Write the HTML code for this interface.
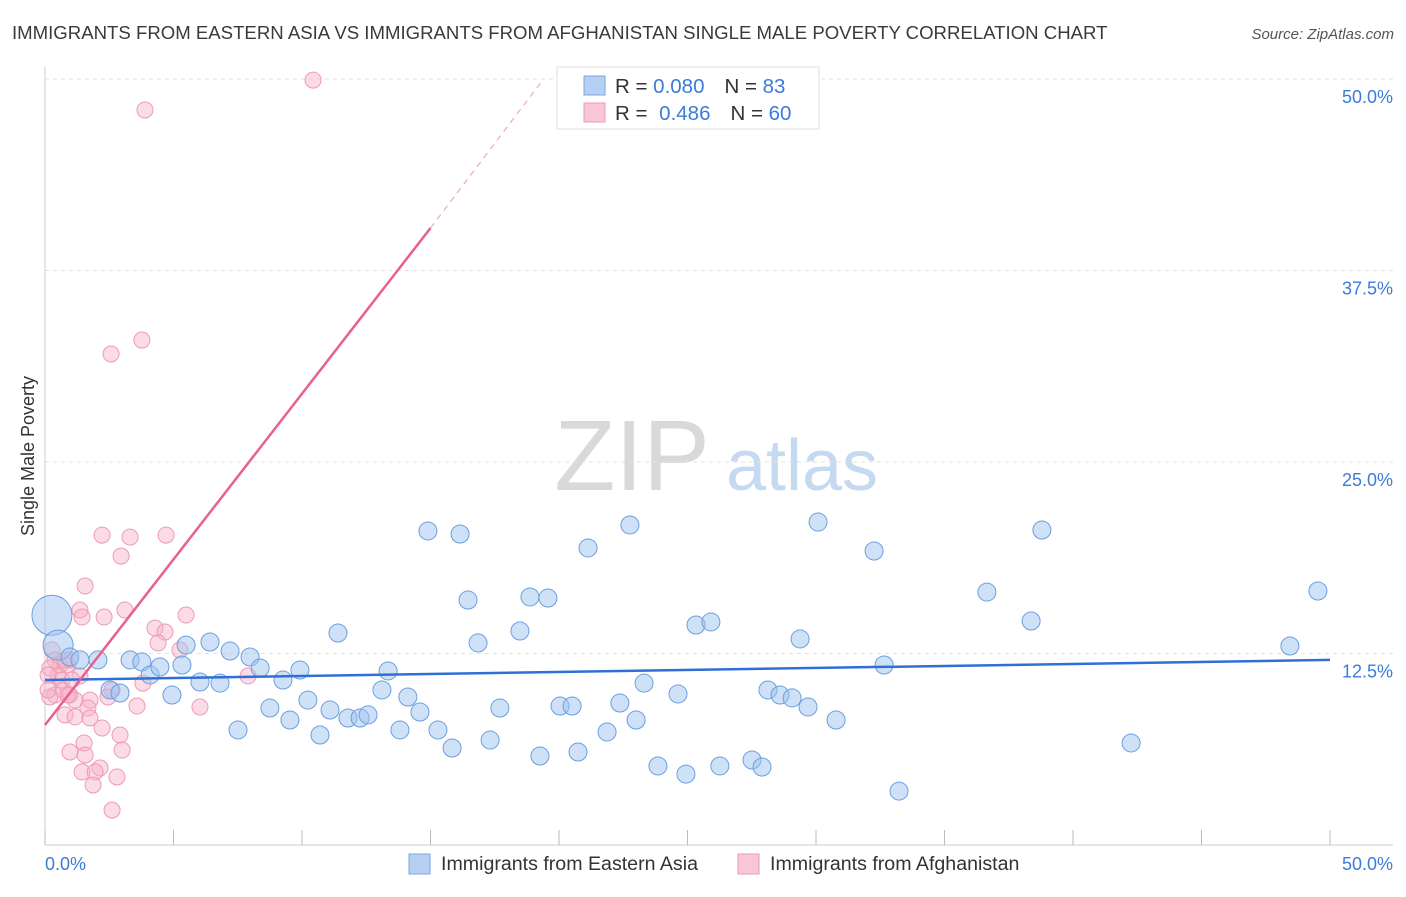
<!DOCTYPE html>
<html><head><meta charset="utf-8"><style>
body{margin:0;background:#fff;font-family:"Liberation Sans",sans-serif;}
svg text{font-family:"Liberation Sans",sans-serif;}
</style></head><body>
<svg id="chart" width="1406" height="892" viewBox="0 0 1406 892">
<text x="12" y="39" font-size="18.6" fill="#3a3a3a">IMMIGRANTS FROM EASTERN ASIA VS IMMIGRANTS FROM AFGHANISTAN SINGLE MALE POVERTY CORRELATION CHART</text>
<text x="1394" y="39" font-size="15" fill="#555" font-style="italic" text-anchor="end">Source: ZipAtlas.com</text>
<text x="0" y="0" transform="translate(34,456) rotate(-90)" font-size="18" fill="#333" text-anchor="middle">Single Male Poverty</text>
<g>
<text x="632" y="490" font-size="100" fill="#d9d9d9" font-family="Liberation Serif,serif" text-anchor="middle">ZIP</text>
<text x="802" y="490" font-size="72" fill="#c5d9f1" text-anchor="middle">atlas</text>
</g>
<g id="grid"></g><g id="axes"></g><g id="pts"></g><g id="trend"></g>
<g>
<rect x="557" y="67" width="262" height="62" fill="#fff" stroke="#ddd"/>
<rect x="584" y="76" width="21" height="19" fill="#b5d0f3" stroke="#7aa6e0"/>
<rect x="584" y="103" width="21" height="19" fill="#f8c6d5" stroke="#ec9ab4"/>
<text x="615" y="93" font-size="20.5" fill="#333">R = <tspan fill="#3d7bd9">0.080</tspan><tspan dx="20">N = </tspan><tspan fill="#3d7bd9">83</tspan></text>
<text x="615" y="120" font-size="20.5" fill="#333">R = <tspan dx="6" fill="#3d7bd9">0.486</tspan><tspan dx="20">N = </tspan><tspan fill="#3d7bd9">60</tspan></text>
</g>
<g>
<rect x="409" y="854" width="21" height="20" fill="#b5d0f3" stroke="#7aa6e0"/>
<text x="441" y="870" font-size="19.6" fill="#333">Immigrants from Eastern Asia</text>
<rect x="738" y="854" width="21" height="20" fill="#f8c6d5" stroke="#ec9ab4"/>
<text x="770" y="870" font-size="19.6" fill="#333">Immigrants from Afghanistan</text>
</g>
</svg>
<script>
const blueX=[0.27,0.51,0.97,1.36,2.06,2.53,2.92,3.31,3.77,4.09,4.47,4.94,5.33,5.49,6.03,6.42,6.81,7.20,7.51,7.98,8.37,8.75,9.26,9.53,9.92,10.23,10.70,11.09,11.40,11.79,12.26,12.57,13.11,13.35,13.81,14.12,14.59,14.90,15.29,15.84,16.15,16.46,16.85,17.32,17.70,18.48,18.87,19.26,19.57,20.04,20.51,20.74,21.13,21.87,22.37,22.76,23.00,23.31,23.85,24.63,24.94,25.33,25.91,26.26,27.51,27.90,28.13,28.60,29.07,29.38,29.69,30.08,30.78,32.26,32.65,33.23,36.65,38.37,38.79,42.26,48.44,49.53];
const blueY=[15.0,13.05,12.27,12.08,12.08,10.12,9.92,12.08,11.95,11.10,11.62,9.79,11.75,13.05,10.64,13.25,10.57,12.66,7.51,12.27,11.55,8.94,10.77,8.16,11.42,9.46,7.18,8.81,13.84,8.29,8.29,8.49,10.12,11.36,7.51,9.66,8.68,20.50,7.51,6.33,20.30,15.99,13.19,6.85,8.94,13.97,16.19,5.81,16.12,9.07,9.07,6.07,19.39,7.38,9.27,20.89,8.16,10.57,5.16,9.86,4.63,14.36,14.56,5.16,5.55,5.09,10.12,9.79,9.60,13.45,9.01,21.08,8.16,19.19,11.75,3.52,16.51,14.62,20.56,6.66,12.99,16.58];
const pinkX=[10.43,3.89,3.77,2.57,2.22,3.31,4.71,2.96,1.56,1.36,1.44,3.11,2.30,5.49,4.28,4.67,5.25,4.40,0.27,0.39,0.58,0.19,0.86,0.97,0.51,0.66,1.36,0.12,0.70,0.97,1.17,1.75,0.39,0.19,0.89,2.61,2.45,3.81,3.58,6.03,7.90,1.67,0.78,1.17,1.75,2.22,1.52,2.92,3.00,0.97,1.56,2.14,1.44,1.95,2.80,1.87,2.61,0.12,1.05,0.78];
const pinkY=[49.93,47.98,32.96,32.05,20.23,20.10,20.23,18.86,16.91,15.34,14.88,15.34,14.88,15.01,14.16,13.90,12.73,13.19,12.73,12.08,11.75,11.55,11.75,12.08,11.03,10.77,11.03,11.10,10.12,9.79,9.46,9.46,9.79,9.66,9.79,10.12,9.66,10.57,9.07,9.01,11.03,8.94,8.49,8.36,8.29,7.64,6.66,7.18,6.20,6.07,5.87,5.03,4.77,4.77,4.44,3.92,2.28,10.12,10.77,12.08];
const blueTrend=[10.77,12.08];
const pinkTrend=[7.83,40.27,50];
const pinkTrendX=[0,15.0,19.4];
const yTicks=[12.5,25,37.5,50];
const yTickLabels=["12.5%","25.0%","37.5%","50.0%"];
const NS="http://www.w3.org/2000/svg";
const sx=v=>45+v*25.7, sy=v=>845-v*15.32;
function mk(tag,attrs,parent){const e=document.createElementNS(NS,tag);for(const k in attrs)e.setAttribute(k,attrs[k]);document.getElementById(parent).appendChild(e);return e;}
yTicks.forEach((t,i)=>{
 const g=mk('line',{x1:45,x2:1393,y1:sy(t),y2:sy(t),stroke:'#e2e2e2','stroke-dasharray':'4,4'},'grid');
 
 
 const l=mk('text',{x:1393,y:sy(t)+24,'font-size':18,fill:'#3d7bd9','text-anchor':'end'},'grid');
 l.textContent=yTickLabels[i];
 
 
});
const ax=mk('line',{x1:45,x2:45,y1:67,y2:845,stroke:'#ccc'},'axes');


const bx=mk('line',{x1:45,x2:1393,y1:845,y2:845,stroke:'#ccc'},'axes');


for(let i=0;i<=10;i++){const t=mk('line',{x1:sx(i*5),x2:sx(i*5),y1:830,y2:845,stroke:'#bbb'},'axes');
 
 }
[["0.0%",45,'start'],["50.0%",1393,'end']].forEach(d=>{const t=mk('text',{x:d[1],y:870,'font-size':18,fill:'#3d7bd9','text-anchor':d[2]},'axes');t.textContent=d[0];
 
 });
pinkX.forEach((x,i)=>{const c=mk('circle',{cx:sx(x),cy:sy(pinkY[i]),r:8,fill:'rgba(246,178,200,0.45)',stroke:'#ee9ab5','stroke-width':1},'pts');
 
 });
blueX.forEach((x,i)=>{const r=i==0?20:(i==1?15:9);const c=mk('circle',{cx:sx(x),cy:sy(blueY[i]),r:r,fill:'rgba(160,195,240,0.5)',stroke:'#6a9fe0','stroke-width':1},'pts');
 
 });
const bl=mk('line',{x1:sx(0),y1:sy(blueTrend[0]),x2:sx(50),y2:sy(blueTrend[1]),stroke:'#2f6fd6','stroke-width':2.5},'trend');


const pl=mk('line',{x1:sx(pinkTrendX[0]),y1:sy(pinkTrend[0]),x2:sx(pinkTrendX[1]),y2:sy(pinkTrend[1]),stroke:'#e8608f','stroke-width':2.5},'trend');


const pd=mk('line',{x1:sx(pinkTrendX[1]),y1:sy(pinkTrend[1]),x2:sx(pinkTrendX[2]),y2:sy(pinkTrend[2]),stroke:'#f0a8c0','stroke-width':1.2,'stroke-dasharray':'6,5'},'trend');


</script>
</body></html>
